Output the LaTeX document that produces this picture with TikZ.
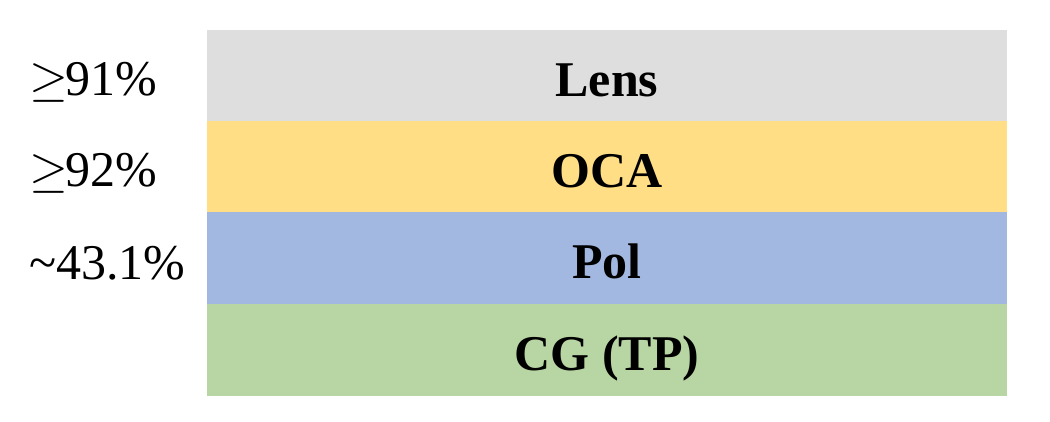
\RequirePackage{fix-cm}
\documentclass[tikz,border=0pt]{standalone}
\usepackage{fontspec}
\setmainfont{Liberation Serif}
\usepackage{tikz}

\definecolor{lensgray}{HTML}{DEDEDE}
\definecolor{ocayellow}{HTML}{FFDE85}
\definecolor{polblue}{HTML}{A3B8E1}
\definecolor{cggreen}{HTML}{B8D6A3}

\tikzset{
	layer/.style={draw=none, inner sep=0pt, minimum width=800pt, minimum height=92pt,
		text height=40pt, text depth=0pt,
		font=\fontsize{50}{60}\selectfont\bfseries},
	trans/.style={anchor=base west, inner sep=0pt, font=\fontsize{50}{60}\selectfont}
}

\begin{document}
\begin{tikzpicture}[x=1pt,y=1pt]
	\useasboundingbox (0,0) rectangle (1050,421);
	
	\node[layer, fill=lensgray] (lens) at (607,344.5) {Lens};
	\node[layer, fill=ocayellow] (oca) at (607,253.5) {OCA};
	\node[layer, fill=polblue] (pol) at (607,162.5) {Pol};
	\node[layer, fill=cggreen] (cg) at (607,71) {CG (TP)};
	
	\node[trans] (tlens) at (29,325) {$\geq$\hspace{-3pt}91\%};
	\node[trans] (toca) at (29,234) {$\geq$\hspace{-3pt}92\%};
	\node[trans] (tpol) at (29,142) {\textasciitilde43.1\%};
	
	\end{tikzpicture}
\end{document}
